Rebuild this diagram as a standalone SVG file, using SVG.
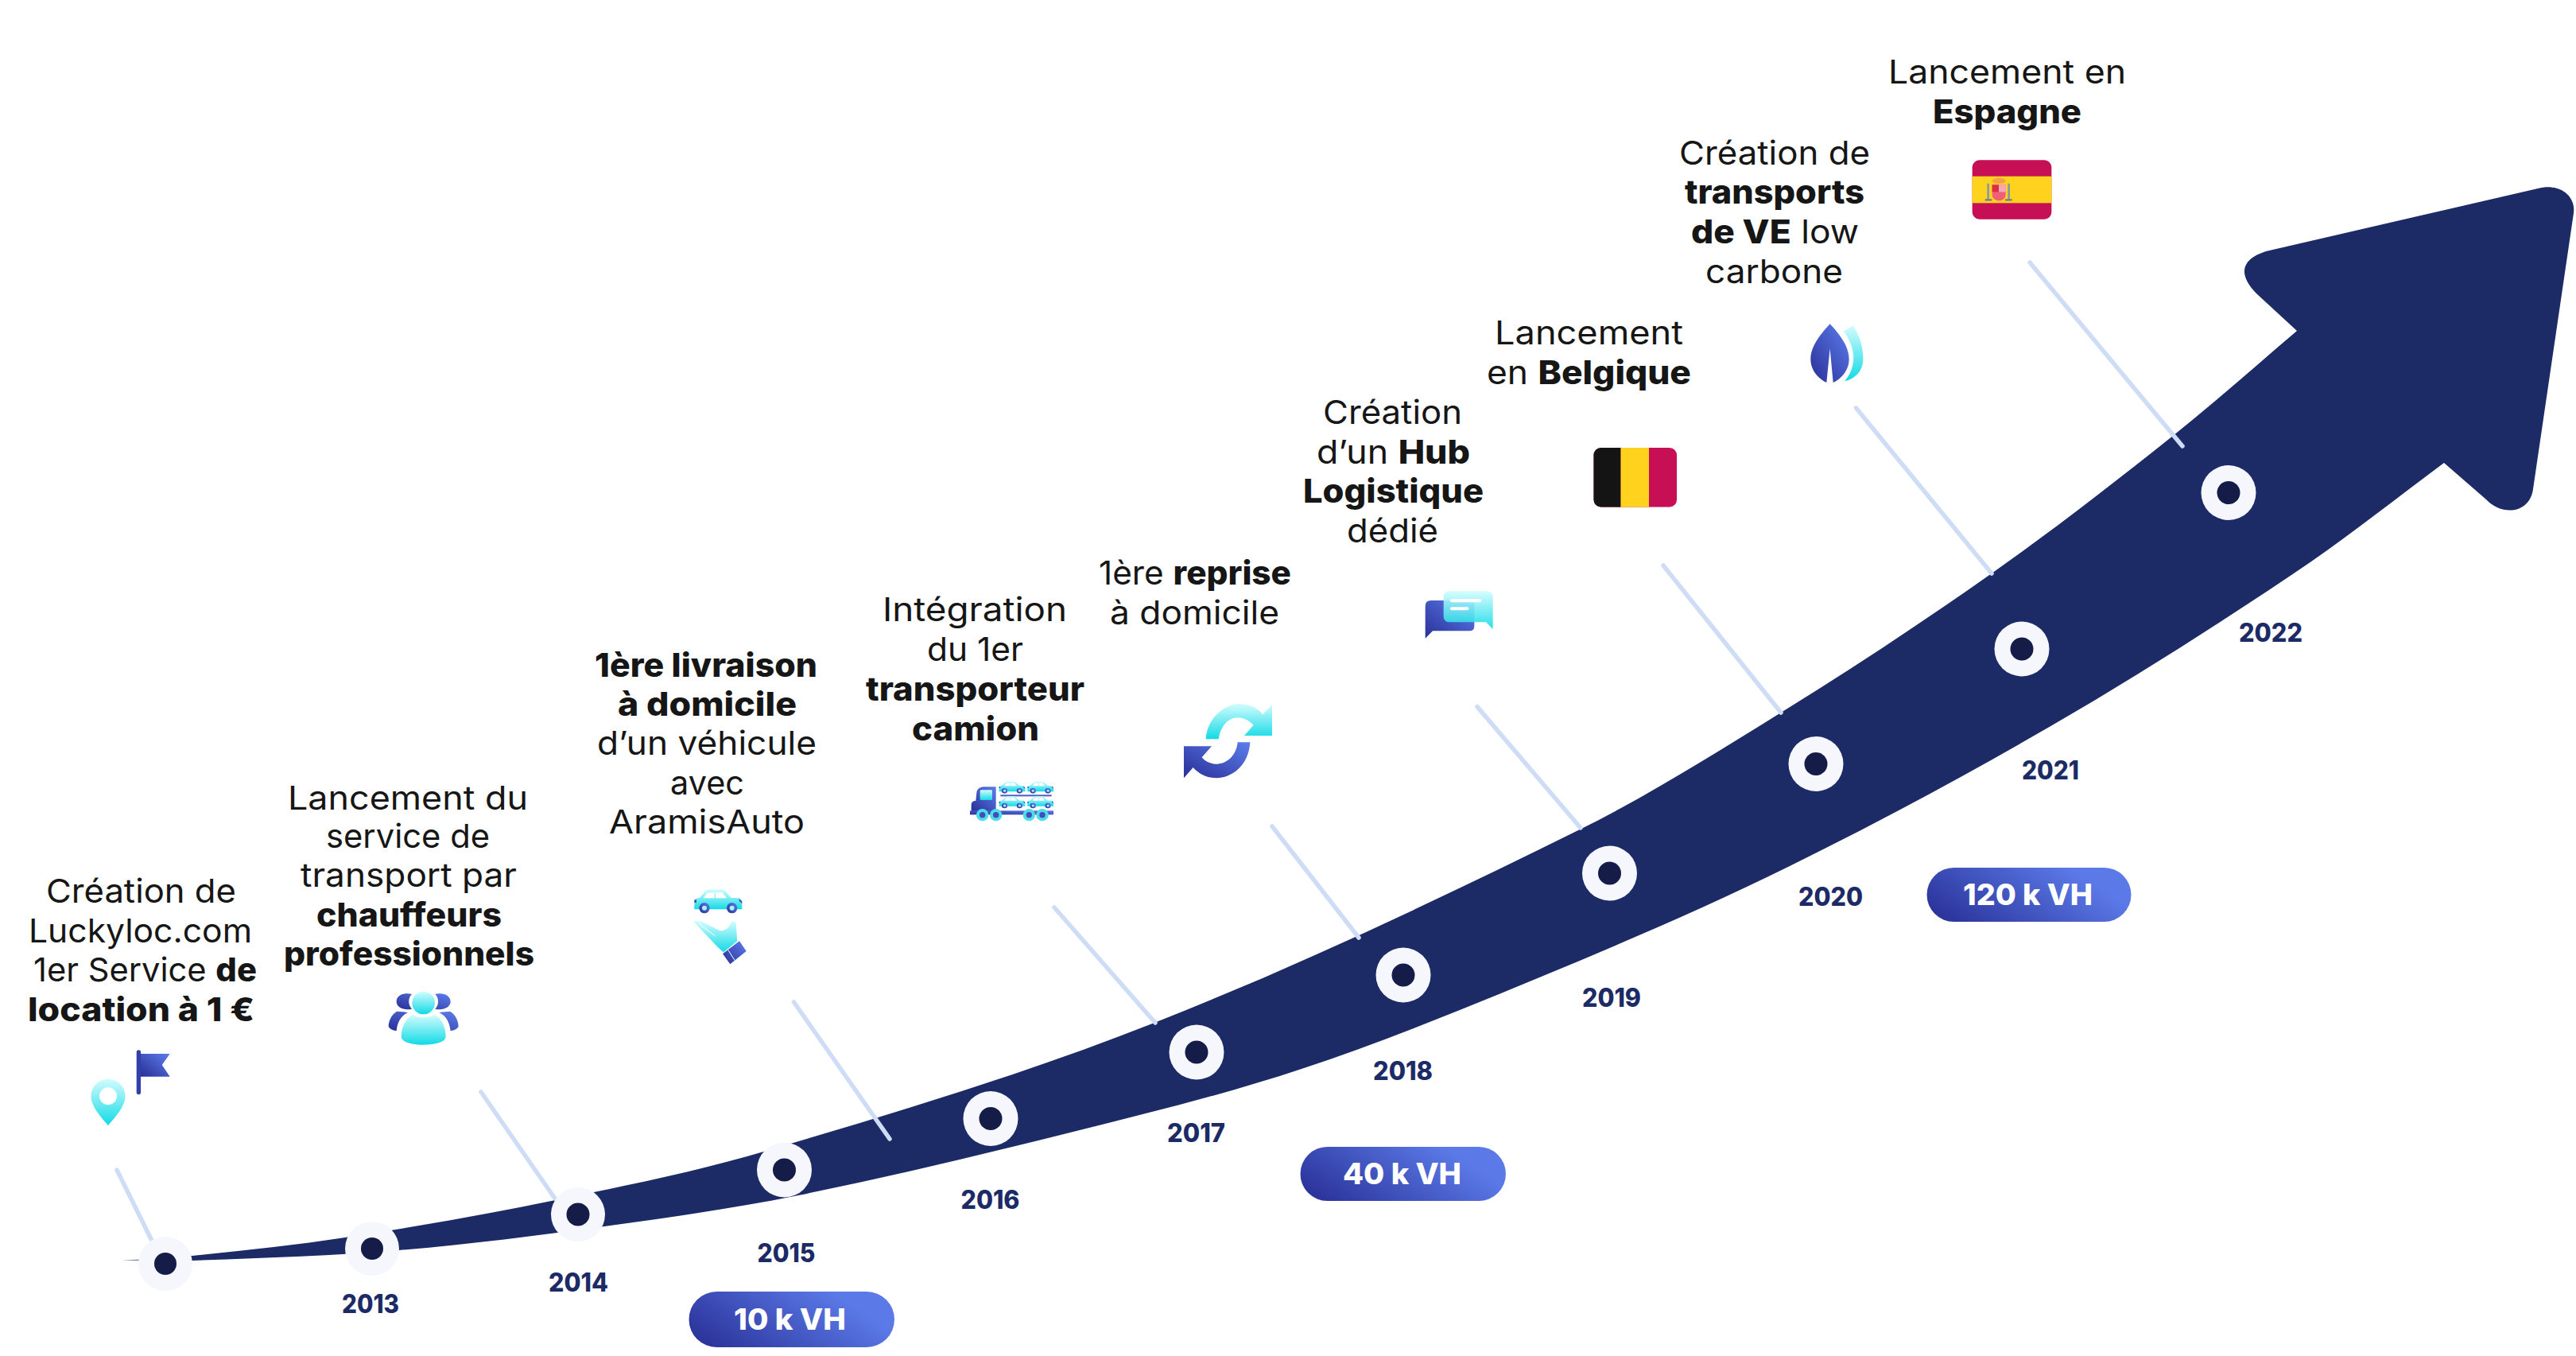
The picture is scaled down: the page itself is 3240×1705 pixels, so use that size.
<svg xmlns="http://www.w3.org/2000/svg" xmlns:xlink="http://www.w3.org/1999/xlink" width="3240" height="1705" viewBox="0 0 3240 1705">
<defs>
<linearGradient id="blue" x1="0" y1="1" x2="1" y2="0"><stop offset="0" stop-color="#2a2f97"/><stop offset="1" stop-color="#5c7eec"/></linearGradient>
<linearGradient id="cyan" x1="0" y1="0" x2="0" y2="1"><stop offset="0" stop-color="#d2fcfe"/><stop offset="1" stop-color="#12dae6"/></linearGradient>
<linearGradient id="pill" x1="0" y1="0.7" x2="1" y2="0.3"><stop offset="0" stop-color="#2c359c"/><stop offset="0.85" stop-color="#5b7ae8"/></linearGradient>
<g id="car">
<path d="M70,130 L70,97 Q72,88 90,86 L110,64 Q117,55 130,55 L170,55 Q182,55 190,65 L208,86 L238,88 Q250,92 250,105 L250,130 Z" fill="url(#cyan)"/>
<path d="M105,88 L118,68 L146,66 L146,88 Z M150,66 L175,66 L192,88 L150,88 Z" fill="#fff"/>
<path d="M70,95 L78,93 L78,105 L70,105 Z M238,90 L250,100 L250,108 L240,100 Z" fill="#3e4fb8"/>
<circle cx="108" cy="125" r="20" fill="url(#blue)"/><circle cx="108" cy="125" r="9" fill="#a9f1f6"/>
<circle cx="212" cy="125" r="20" fill="url(#blue)"/><circle cx="212" cy="125" r="9" fill="#a9f1f6"/>
</g>
</defs>
<style>
text{font-family:Inter,"Noto Sans","Liberation Sans",sans-serif}
.t{font-size:41px;font-weight:400;fill:#161616}
.t tspan{font-weight:800}
.tb{font-size:41px;font-weight:800;fill:#161616}
.y{font-size:32px;font-weight:800;fill:#1c2b66}
.p{font-size:37px;font-weight:800;fill:#fff}
.ring{fill:#f5f7fd}
.dot{fill:#141c47}
.lead{stroke:#cfdcf5;stroke-width:5.5;stroke-linecap:round;fill:none}
</style>
<rect width="3240" height="1705" fill="#fff"/>
<g id="arrow">
<path fill="#1c2b66" d="M153,1584.5 C182.7,1583.6 212.3,1582 242,1579 C306,1572.6 370,1565.8 434,1556 C521.3,1542.6 608.7,1527.5 696,1509.5 C785.3,1491.1 874.7,1473.4 964,1447 C1126.7,1398.8 1289.3,1350.3 1452,1286 C1630.3,1215.6 1808.7,1131.3 1987,1043 C2071.3,1001.3 2155.7,948.3 2240,896 C2328.3,841.3 2416.7,783.3 2505,721 C2581,667.3 2657,608.8 2733,548 C2783.7,507.4 2834.3,462.6 2889,416 L2838,369 C2812,342 2822,325 2850,316 L3192,237 C3218,230 3240,245 3237,268 L3186,615 C3182,645 3148,650 3127,628 L3074,582 C3011,628.6 2948,678.8 2885,721 C2783.7,788.9 2682.3,853.2 2581,912 C2470.7,976 2360.3,1035.2 2250,1089.5 C2147,1140.2 2044,1184.3 1941,1227 C1839.7,1269 1738.3,1310.4 1637,1344 C1541.3,1375.8 1445.7,1399 1350,1423 C1234.7,1451.9 1119.3,1479.7 1004,1503 C922.7,1519.4 841.3,1530.9 760,1542 C674,1553.8 588,1564.9 502,1572 C415.3,1579.2 328.7,1581.9 242,1585 Z"/>
</g>
<g id="connectors">
<line class="lead" x1="147" y1="1471" x2="191" y2="1560"/>
<line class="lead" x1="605" y1="1373" x2="698" y2="1507"/>
<line class="lead" x1="998.5" y1="1260" x2="1119" y2="1432"/>
<line class="lead" x1="1326" y1="1141" x2="1453" y2="1286"/>
<line class="lead" x1="1600" y1="1039" x2="1709" y2="1179"/>
<line class="lead" x1="1858" y1="888.6" x2="1988" y2="1041"/>
<line class="lead" x1="2092" y1="711" x2="2240" y2="896"/>
<line class="lead" x1="2334.5" y1="513" x2="2505" y2="721"/>
<line class="lead" x1="2553" y1="330" x2="2745" y2="561"/>
</g>
<g id="node-start"><circle class="ring" cx="208" cy="1589" r="34"/><circle class="dot" cx="208" cy="1589" r="14"/></g>
<g id="node-2013"><circle class="ring" cx="468" cy="1570" r="34"/><circle class="dot" cx="468" cy="1570" r="14"/><text class="y" x="430" y="1651" textLength="72" lengthAdjust="spacingAndGlyphs">2013</text></g>
<g id="node-2014"><circle class="ring" cx="727" cy="1527" r="34"/><circle class="dot" cx="727" cy="1527" r="14.5"/><text class="y" x="690" y="1624" textLength="75" lengthAdjust="spacingAndGlyphs">2014</text></g>
<g id="node-2015"><circle class="ring" cx="986.5" cy="1471" r="34.5"/><circle class="dot" cx="986.5" cy="1471" r="14.5"/><text class="y" x="952.5" y="1586.5" textLength="73" lengthAdjust="spacingAndGlyphs">2015</text></g>
<g id="node-2016"><circle class="ring" cx="1246" cy="1406.5" r="34.5"/><circle class="dot" cx="1246" cy="1406.5" r="14.5"/><text class="y" x="1208.5" y="1520" textLength="74" lengthAdjust="spacingAndGlyphs">2016</text></g>
<g id="node-2017"><circle class="ring" cx="1505" cy="1323" r="34.5"/><circle class="dot" cx="1505" cy="1323" r="14.5"/><text class="y" x="1468" y="1436" textLength="73" lengthAdjust="spacingAndGlyphs">2017</text></g>
<g id="node-2018"><circle class="ring" cx="1765" cy="1226" r="34.5"/><circle class="dot" cx="1765" cy="1226" r="14.5"/><text class="y" x="1727" y="1358" textLength="75" lengthAdjust="spacingAndGlyphs">2018</text></g>
<g id="node-2019"><circle class="ring" cx="2024.5" cy="1098" r="34.5"/><circle class="dot" cx="2024.5" cy="1098" r="14.5"/><text class="y" x="1990" y="1266" textLength="74" lengthAdjust="spacingAndGlyphs">2019</text></g>
<g id="node-2020"><circle class="ring" cx="2284" cy="960.5" r="34.5"/><circle class="dot" cx="2284" cy="960.5" r="14.5"/><text class="y" x="2262" y="1139" textLength="81" lengthAdjust="spacingAndGlyphs">2020</text></g>
<g id="node-2021"><circle class="ring" cx="2543" cy="816" r="34.5"/><circle class="dot" cx="2543" cy="816" r="14.5"/><text class="y" x="2543" y="979.5" textLength="72" lengthAdjust="spacingAndGlyphs">2021</text></g>
<g id="node-2022"><circle class="ring" cx="2803" cy="619.5" r="34.5"/><circle class="dot" cx="2803" cy="619.5" r="14.5"/><text class="y" x="2816" y="807" textLength="80" lengthAdjust="spacingAndGlyphs">2022</text></g>

<g id="pill-10k"><rect x="866.5" y="1624" width="258.5" height="70" rx="35" fill="url(#pill)"/><text class="p" x="923" y="1672" textLength="141" lengthAdjust="spacingAndGlyphs">10 k VH</text></g>
<g id="pill-40k"><rect x="1635.5" y="1442" width="258.5" height="68" rx="34" fill="url(#pill)"/><text class="p" x="1689" y="1489" textLength="149" lengthAdjust="spacingAndGlyphs">40 k VH</text></g>
<g id="pill-120k"><rect x="2423.5" y="1091" width="257" height="68" rx="34" fill="url(#pill)"/><text class="p" x="2469" y="1138" textLength="163" lengthAdjust="spacingAndGlyphs">120 k VH</text></g>

<g id="event-luckyloc">
<text class="t" x="58" y="1135" textLength="239" lengthAdjust="spacingAndGlyphs">Création de</text>
<text class="t" x="36" y="1185" textLength="281" lengthAdjust="spacingAndGlyphs">Luckyloc.com</text>
<text class="t" x="42" y="1234" textLength="281" lengthAdjust="spacingAndGlyphs">1er Service <tspan>de</tspan></text>
<text class="tb" x="35" y="1284" textLength="285" lengthAdjust="spacingAndGlyphs">location à 1 €</text>
<path d="M171.7,1323 a2.7,2.7 0 0 1 5.4,0 V1373.5 a2.7,2.7 0 0 1 -5.4,0 Z" fill="#3340ab"/>
<path d="M177,1325 H213.7 L203.7,1339 L213.7,1353.7 H177 Z" fill="url(#blue)"/>
<path fill-rule="evenodd" d="M136,1356.7 C148,1356.7 157.5,1366 157.5,1378 C157.5,1391 145,1405 136,1415 C127,1405 114.5,1391 114.5,1378 C114.5,1366 124,1356.7 136,1356.7 Z M136,1367.3 a11,11 0 1 0 0.01,0 Z" fill="url(#cyan)"/>
</g>
<g id="event-chauffeurs">
<text class="t" x="362" y="1018" textLength="302" lengthAdjust="spacingAndGlyphs">Lancement du</text>
<text class="t" x="410" y="1066" textLength="206" lengthAdjust="spacingAndGlyphs">service de</text>
<text class="t" x="378" y="1115" textLength="272" lengthAdjust="spacingAndGlyphs">transport par</text>
<text class="tb" x="398" y="1165" textLength="233" lengthAdjust="spacingAndGlyphs">chauffeurs</text>
<text class="tb" x="357" y="1214" textLength="315" lengthAdjust="spacingAndGlyphs">professionnels</text>
<g transform="translate(468,1220) scale(0.3333)">
<path d="M150,90 C120,82 92,95 92,118 C92,140 118,152 150,146 C135,130 135,105 150,90 Z M238,90 C268,82 296,95 296,118 C296,140 270,152 238,146 C253,130 253,105 238,90 Z" fill="url(#blue)"/>
<path d="M128,158 L94,155 C75,165 62,190 62,212 C70,225 85,228 92,228 C96,195 110,170 135,160 Z M260,158 L294,155 C313,165 326,190 326,212 C318,225 303,228 296,228 C292,195 278,170 253,160 Z" fill="url(#blue)"/>
<circle cx="194" cy="123" r="43" fill="url(#cyan)"/>
<path d="M155,168 C175,182 215,182 235,168 C262,178 278,215 278,250 C278,272 235,281 194,281 C153,281 110,272 110,250 C110,215 128,178 155,168 Z" fill="url(#cyan)"/>
</g>
</g>
<g id="event-livraison">
<text class="tb" x="748" y="851" textLength="280" lengthAdjust="spacingAndGlyphs">1ère livraison</text>
<text class="tb" x="777" y="900" textLength="225" lengthAdjust="spacingAndGlyphs">à domicile</text>
<text class="t" x="751" y="949" textLength="276" lengthAdjust="spacingAndGlyphs">d’un véhicule</text>
<text class="t" x="843" y="999" textLength="93" lengthAdjust="spacingAndGlyphs">avec</text>
<text class="t" x="766" y="1048" textLength="246" lengthAdjust="spacingAndGlyphs">AramisAuto</text>
<g transform="translate(850,1100) scale(0.3333)">
<use xlink:href="#car" href="#car"/>
<path d="M68,178 Q68,175 72,175 L95,175 L165,210 C190,214 204,195 210,178 Q225,170 227,185 L232,250 L180,292 L158,272 Z" fill="url(#cyan)"/>
<path d="M90,178 L94,190 L148,230" stroke="#fff" stroke-width="3" fill="none"/>
<path d="M177,298 L240,250 L266,288 L205,337 Z" fill="url(#blue)"/>
<path d="M197,283 L222,322" stroke="#fff" stroke-width="3"/>
</g>
</g>
<g id="event-camion">
<text class="t" x="1110" y="781" textLength="232" lengthAdjust="spacingAndGlyphs">Intégration</text>
<text class="t" x="1166" y="831" textLength="121" lengthAdjust="spacingAndGlyphs">du 1er</text>
<text class="tb" x="1089" y="881" textLength="275" lengthAdjust="spacingAndGlyphs">transporteur</text>
<text class="tb" x="1147" y="931" textLength="160" lengthAdjust="spacingAndGlyphs">camion</text>
<g transform="translate(1200,960) scale(0.3333)">
<path d="M65,180 L65,155 Q65,142 82,140 L85,110 Q88,90 110,88 L158,88 L158,180 Z" fill="url(#blue)"/>
<rect x="98" y="100" width="46" height="38" rx="4" fill="url(#cyan)"/>
<rect x="60" y="178" width="315" height="15" fill="url(#blue)"/>
<rect x="175" y="118" width="193" height="6" fill="#4a5cc4"/>
<use xlink:href="#car" href="#car" transform="translate(170,68) scale(0.544,0.5) translate(-70,-55)"/>
<use xlink:href="#car" href="#car" transform="translate(277,68) scale(0.544,0.5) translate(-70,-55)"/>
<use xlink:href="#car" href="#car" transform="translate(170,124) scale(0.544,0.5) translate(-70,-55)"/>
<use xlink:href="#car" href="#car" transform="translate(277,124) scale(0.544,0.5) translate(-70,-55)"/>
<circle cx="107" cy="194" r="23" fill="#4fdbe8"/><circle cx="107" cy="194" r="11" fill="#3f50bd"/>
<circle cx="158" cy="194" r="23" fill="#4fdbe8"/><circle cx="158" cy="194" r="11" fill="#3f50bd"/>
<circle cx="283" cy="194" r="23" fill="#4fdbe8"/><circle cx="283" cy="194" r="11" fill="#3f50bd"/>
<circle cx="333" cy="194" r="23" fill="#4fdbe8"/><circle cx="333" cy="194" r="11" fill="#3f50bd"/>
</g>
</g>
<g id="event-reprise">
<text class="t" x="1382" y="734.5" textLength="242" lengthAdjust="spacingAndGlyphs">1ère <tspan>reprise</tspan></text>
<text class="t" x="1396" y="785" textLength="213" lengthAdjust="spacingAndGlyphs">à domicile</text>
<g transform="translate(1470,870) scale(0.3333)">
<path d="M140,178 C145,90 220,45 265,45 C305,45 335,60 355,85 L390,48 L390,165 L285,165 L320,125 C300,105 280,97 260,97 C225,97 195,130 188,178 Z" fill="url(#cyan)"/>
<path d="M307,190 C302,280 235,325 180,325 C145,325 115,310 92,285 L57,325 L57,205 L162,205 L125,247 C140,265 160,272 180,272 C220,272 255,240 260,190 Z" fill="url(#blue)"/>
</g>
</g>
<g id="event-hub">
<text class="t" x="1664" y="533" textLength="175" lengthAdjust="spacingAndGlyphs">Création</text>
<text class="t" x="1656" y="583" textLength="193" lengthAdjust="spacingAndGlyphs">d’un <tspan>Hub</tspan></text>
<text class="tb" x="1639" y="632" textLength="227" lengthAdjust="spacingAndGlyphs">Logistique</text>
<text class="t" x="1694" y="682" textLength="115" lengthAdjust="spacingAndGlyphs">dédié</text>
<g transform="translate(1770,730) scale(0.3333)">
<path d="M90,75 H235 Q253,75 253,93 V172 Q253,190 235,190 H96 L68,218 V97 Q68,75 90,75 Z" fill="url(#blue)"/>
<path d="M160,40 H300 Q323,40 323,63 V183 L297,157 H160 Q137,157 137,134 V63 Q137,40 160,40 Z" fill="url(#cyan)" fill-opacity="0.9"/>
<rect x="162" y="70" width="118" height="12" rx="6" fill="#fff"/>
<rect x="162" y="100" width="70" height="12" rx="6" fill="#fff"/>
</g>
</g>
<g id="event-belgique">
<text class="t" x="1880" y="433" textLength="237" lengthAdjust="spacingAndGlyphs">Lancement</text>
<text class="t" x="1870" y="483" textLength="257" lengthAdjust="spacingAndGlyphs">en <tspan>Belgique</tspan></text>
<rect x="2004.5" y="563" width="104.5" height="74.5" rx="9" fill="#c60f54"/>
<path d="M2038.5,563 H2013.5 a9,9 0 0 0 -9,9 V628.5 a9,9 0 0 0 9,9 H2038.5 Z" fill="#141414"/>
<rect x="2038.5" y="563" width="35.5" height="74.5" fill="#ffd21e"/>
</g>
<g id="event-ve">
<text class="t" x="2112" y="207" textLength="240" lengthAdjust="spacingAndGlyphs">Création de</text>
<text class="tb" x="2119" y="256" textLength="226" lengthAdjust="spacingAndGlyphs">transports</text>
<text class="t" x="2127" y="306" textLength="211" lengthAdjust="spacingAndGlyphs"><tspan>de VE</tspan> low</text>
<text class="t" x="2145" y="356" textLength="173" lengthAdjust="spacingAndGlyphs">carbone</text>
<g transform="translate(2260,390) scale(0.3333)">
<path d="M125,52 C160,90 197,135 197,185 C197,225 170,258 137,273 L125,145 L112,273 C80,258 52,225 52,185 C52,135 90,90 125,52 Z" fill="url(#blue)"/>
<path d="M177,80 L212,58 C240,100 252,150 250,190 C248,230 220,260 180,268 C210,235 218,190 212,160 C208,130 195,105 177,80 Z" fill="url(#cyan)"/>
</g>
</g>
<g id="event-espagne">
<text class="t" x="2375" y="105" textLength="299" lengthAdjust="spacingAndGlyphs">Lancement en</text>
<text class="tb" x="2431" y="155" textLength="187" lengthAdjust="spacingAndGlyphs">Espagne</text>
<g transform="translate(2470,190) scale(0.3333)">
<rect x="32" y="34" width="299" height="223" rx="27" fill="#c60f54"/>
<rect x="32" y="95" width="299" height="101" fill="#ffd21e"/>
<path d="M92,122 V182 M170,122 V182" stroke="#8a9aa5" stroke-width="8"/>
<path d="M80,184 H106 M156,184 H182" stroke="#6d7f8c" stroke-width="7"/>
<ellipse cx="133" cy="112" rx="25" ry="11" fill="#f4a14a"/>
<path d="M107,127 H158 V165 C158,178 146,187 133,187 C120,187 107,178 107,165 Z" fill="#ef6077"/>
<rect x="107" y="127" width="25" height="27" fill="#dd2e44"/>
<rect x="132" y="127" width="26" height="27" fill="#f4a9b8"/>
</g>
</g>
</svg>
